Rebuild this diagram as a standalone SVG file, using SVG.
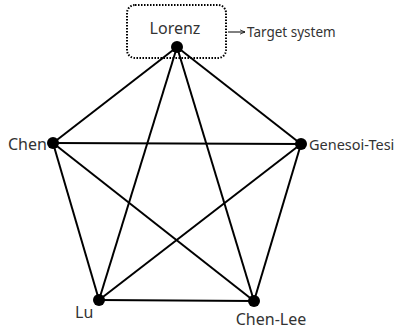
<svg xmlns="http://www.w3.org/2000/svg" width="400" height="329" viewBox="0 0 400 329">
<defs>
<style>
.lbl{font-family:"Noto Sans","Liberation Sans",sans-serif;font-size:16px;fill:#333}
.sm{font-size:13.5px}
.gt{font-size:14.5px}
.e{stroke:#000;stroke-width:2;fill:none}
.dot{fill:#000}
</style>
<marker id="ah" viewBox="0 0 8 8" refX="7" refY="4" markerWidth="6" markerHeight="6" orient="auto"><path d="M0,1 L7,4 L0,7" fill="none" stroke="#000" stroke-width="1"/></marker>
</defs>
<rect width="400" height="329" fill="#fff"/>
<g id="connectors">
<line class="e" x1="177" y1="47" x2="53" y2="143"/>
<line class="e" x1="177" y1="47" x2="301" y2="144"/>
<line class="e" x1="177" y1="47" x2="99" y2="300"/>
<line class="e" x1="177" y1="47" x2="254" y2="301"/>
<line class="e" x1="53" y1="143" x2="301" y2="144"/>
<line class="e" x1="53" y1="143" x2="99" y2="300"/>
<line class="e" x1="53" y1="143" x2="254" y2="301"/>
<line class="e" x1="301" y1="144" x2="99" y2="300"/>
<line class="e" x1="301" y1="144" x2="254" y2="301"/>
<line class="e" x1="99" y1="300" x2="254" y2="301"/>
</g>
<g id="target-box">
<rect x="127" y="5" width="99" height="53" rx="8" fill="none" stroke="#000" stroke-width="2" stroke-dasharray="1.5 1.5"/>
<line x1="228" y1="32" x2="245" y2="32" stroke="#000" stroke-width="1" marker-end="url(#ah)"/>
<text class="lbl sm" x="247" y="37">Target system</text>
</g>
<g id="lorenz"><circle class="dot" cx="177" cy="47" r="6"/><text class="lbl" x="175" y="34" text-anchor="middle">Lorenz</text></g>
<g id="chen"><circle class="dot" cx="53" cy="143" r="6"/><text class="lbl" x="8" y="150">Chen</text></g>
<g id="genesoi-tesi"><circle class="dot" cx="301" cy="144" r="6"/><text class="lbl gt" x="309" y="150">Genesoi-Tesi</text></g>
<g id="lu"><circle class="dot" cx="99" cy="300" r="6"/><text class="lbl" x="75" y="318">Lu</text></g>
<g id="chen-lee"><circle class="dot" cx="254" cy="301" r="6"/><text class="lbl" x="271" y="325" text-anchor="middle">Chen-Lee</text></g>
</svg>
